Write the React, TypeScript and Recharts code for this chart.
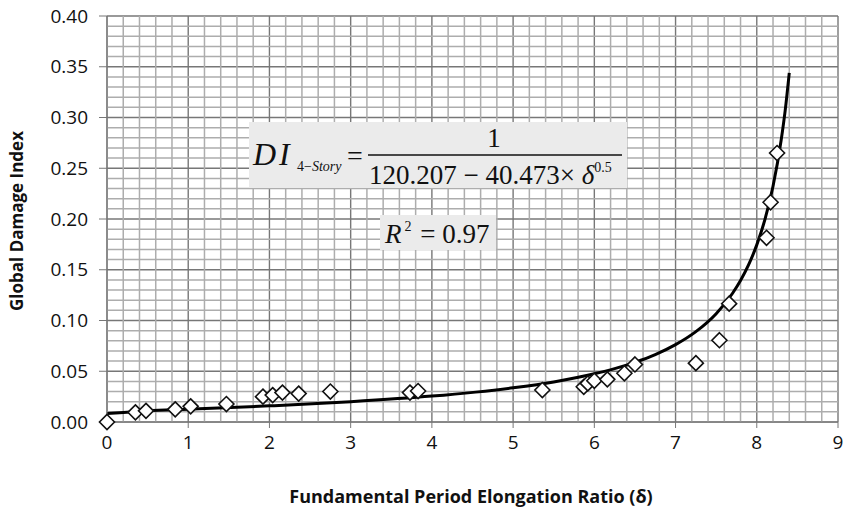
import React from 'react';
import {
  ComposedChart,
  Line,
  Scatter,
  XAxis,
  YAxis,
  CartesianGrid,
  ReferenceLine,
} from 'recharts';

// observed global damage index vs. period elongation ratio
const obsDelta = [
  0, 0.35, 0.48, 0.84, 1.03, 1.47, 1.92, 2.04, 2.16, 2.36, 2.75, 3.73, 3.83,
  5.36, 5.87, 5.92, 6.0, 6.16, 6.37, 6.5, 7.25, 7.54, 7.66, 8.12, 8.17, 8.25,
];
const obsDI = [
  0.0, 0.0095, 0.011, 0.0125, 0.0154, 0.0177, 0.025, 0.0265, 0.029, 0.028, 0.03,
  0.029, 0.0305, 0.0315, 0.0347, 0.038, 0.0406, 0.042, 0.048, 0.0567, 0.058,
  0.0806, 0.1166, 0.1815, 0.2165, 0.265,
];

// fitted regression curve
const fitDelta = [
  0, 0.5, 1, 2, 3, 4, 5, 5.5, 6, 6.25, 6.5, 6.75, 7, 7.25, 7.5, 7.7, 7.8, 7.9,
  8.0, 8.1, 8.2, 8.3, 8.35, 8.4,
];
const fitDI = [
  0.0083, 0.0109, 0.0125, 0.0159, 0.02, 0.0255, 0.0337, 0.0395, 0.0475, 0.0526,
  0.0588, 0.0664, 0.0762, 0.089, 0.1067, 0.1266, 0.1394, 0.155, 0.1745, 0.1993,
  0.2322, 0.2775, 0.307, 0.344,
];

const xTicks = [0, 1, 2, 3, 4, 5, 6, 7, 8, 9];
const yTicks = [0, 0.05, 0.1, 0.15, 0.2, 0.25, 0.3, 0.35, 0.4];

const observed = obsDelta.map((x, i) => ({ x, y: obsDI[i] }));
const fitted = fitDelta.map((x, i) => ({ x, y: fitDI[i] }));

// minor grid: every 0.2 on x, every 0.01 on y
const minorX: number[] = [];
for (let i = 1; i < 45; i++) if (i % 5 !== 0) minorX.push(+(i * 0.2).toFixed(1));
const minorY: number[] = [];
for (let i = 1; i < 40; i++) if (i % 5 !== 0) minorY.push(+(i * 0.01).toFixed(2));

const SANS = '"Open Sans", sans-serif';
const SERIF = '"Liberation Serif", "Times New Roman", serif';
const MINOR = '#adadad';
const MAJOR = '#777777';

const Diamond = (props: any) => {
  const { cx, cy } = props;
  const r = 7.5;
  return (
    <polygon
      points={`${cx},${cy - r} ${cx + r},${cy} ${cx},${cy + r} ${cx - r},${cy}`}
      fill="#fff"
      stroke="#111"
      strokeWidth={1.6}
    />
  );
};

export default function App() {
  return (
    <div style={{ position: 'absolute', left: 0, top: 0, width: 845, height: 513, background: '#fff' }}>
      <ComposedChart
        width={845}
        height={513}
        margin={{ top: 16, right: 7, bottom: 51, left: 47 }}
      >
        {minorX.map((v) => (
          <ReferenceLine key={`mx${v}`} x={v} stroke={MINOR} strokeWidth={1.5} />
        ))}
        {minorY.map((v) => (
          <ReferenceLine key={`my${v}`} y={v} stroke={MINOR} strokeWidth={1.5} />
        ))}
        <CartesianGrid stroke={MAJOR} strokeWidth={1.4} />
        <XAxis
          dataKey="x"
          type="number"
          domain={[0, 9]}
          ticks={xTicks}
          allowDuplicatedCategory={false}
          stroke={MAJOR}
          tickSize={6}
          tickMargin={8}
          height={40}
          tick={{ fill: '#111', fontSize: 19, fontFamily: SANS }}
        />
        <YAxis
          dataKey="y"
          type="number"
          domain={[0, 0.4]}
          ticks={yTicks}
          stroke={MAJOR}
          tickSize={8}
          tickMargin={11}
          width={60}
          tickFormatter={(v: number) => v.toFixed(2)}
          tick={{ fill: '#111', fontSize: 19, fontFamily: SANS }}
        />
        <Line
          data={fitted}
          dataKey="y"
          type="monotone"
          stroke="#000"
          strokeWidth={3}
          dot={false}
          activeDot={false}
          isAnimationActive={false}
        />
        <Scatter
          data={observed}
          dataKey="y"
          shape={Diamond}
          isAnimationActive={false}
        />
      </ComposedChart>
      <svg
        width={845}
        height={513}
        style={{ position: 'absolute', left: 0, top: 0, pointerEvents: 'none' }}
      >
        <text
          x={471}
          y={503}
          textAnchor="middle"
          fontFamily={SANS}
          fontWeight="bold"
          fontSize={18}
          fill="#111"
        >
          Fundamental Period Elongation Ratio (δ)
        </text>
        <text
          transform="translate(23,221) rotate(-90)"
          textAnchor="middle"
          fontFamily={SANS}
          fontWeight="bold"
          fontSize={17}
          fill="#111"
        >
          Global Damage Index
        </text>

        {/* regression equation */}
        <rect x={249} y={122} width={378} height={66} fill="#ebebeb" />
        <text x={253} y={165} fontFamily={SERIF} fontSize={32} fontStyle="italic" letterSpacing={3} fill="#111">
          DI
        </text>
        <text x={297} y={171} fontFamily={SERIF} fontSize={14} fill="#111">
          4−<tspan fontStyle="italic">Story</tspan>
        </text>
        <text x={347} y={165} fontFamily={SERIF} fontSize={28} fill="#111">
          =
        </text>
        <text x={494} y={147} textAnchor="middle" fontFamily={SERIF} fontSize={27} fill="#111">
          1
        </text>
        <line x1={368} y1={155} x2={622} y2={155} stroke="#111" strokeWidth={1.5} />
        <text x={369} y={184} fontFamily={SERIF} fontSize={27} fill="#111">
          120.207 − 40.473×
          <tspan fontStyle="italic"> δ</tspan>
          <tspan fontSize={14} dy={-12}>0.5</tspan>
        </text>

        {/* goodness of fit */}
        <rect x={380} y={215} width={116} height={35} fill="#ebebeb" />
        <text x={385} y={243} fontFamily={SERIF} fontSize={27} fill="#111">
          <tspan fontStyle="italic">R</tspan>
          <tspan fontSize={14} dx={3} dy={-12}>2</tspan>
          <tspan dx={2} dy={12}> = 0.97</tspan>
        </text>
      </svg>
    </div>
  );
}
